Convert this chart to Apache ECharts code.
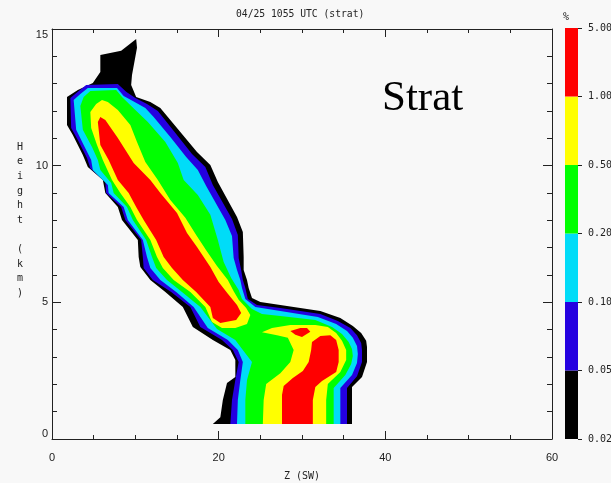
<!DOCTYPE html>
<html>
<head>
<meta charset="utf-8">
<script src="https://cdn.jsdelivr.net/npm/echarts@6/dist/echarts.min.js"></script>
<style>
  html, body { margin: 0; padding: 0; background: #f8f8f8; }
  #chart { width: 611px; height: 483px; }
</style>
</head>
<body>
<div id="chart"></div>
<script>
// Contour levels of the frequency (%) and their fill colours
const levelLabels = ['0.02', '0.05', '0.10', '0.20', '0.50', '1.00', '5.00'];
const levelColors = ['#000000', '#2400e0', '#00dcf8', '#00ff00', '#ffff00', '#ff0000'];

// Axis ranges: reflectivity Z (dBZ) and height (km)
const zRange = [0, 60];
const heightRange = [0, 15];

// Contour outlines as [Z, height] rings
const contour002 = [
  [19.3,0.55],[20.2,0.8],[20.5,1.43],[21.0,2.05],[22.0,2.27],[22.0,2.89],[21.4,3.26],[19.3,3.62],
  [16.9,4.1],[15.7,4.83],[13.6,5.38],[11.8,5.82],[10.6,6.29],[10.4,6.66],[10.3,7.28],[8.4,8.01],
  [7.9,8.49],[6.4,9.0],[6.1,9.48],[4.3,9.95],[3.7,10.39],[2.5,11.12],[1.8,11.49],[1.8,12.51],
  [3.1,12.77],[4.9,13.02],[5.8,13.43],[5.8,14.05],[8.3,14.2],[10.1,14.63],
  [10.2,14.31],[9.6,13.32],[9.5,12.95],[10.1,12.51],[11.8,12.33],[13.0,12.11],[15.4,11.23],
  [17.4,10.5],[19.0,10.02],[19.9,9.4],[22.2,8.12],[22.9,7.57],[23.0,6.66],[23.0,6.18],[23.4,5.82],
  [23.6,5.52],[24.0,5.16],[25.0,5.01],[27.4,4.9],[32.2,4.68],[34.6,4.43],[36.1,4.13],[37.1,3.88],
  [37.7,3.59],[37.8,3.37],[37.8,2.82],[37.2,2.27],[36.0,1.9],[36.0,0.55]
];
const contour005 = [
  [21.4,0.55],[21.6,1.43],[22.0,2.16],[22.4,2.82],[21.7,3.26],[20.4,3.62],[17.8,4.1],[16.6,4.83],
  [14.3,5.38],[12.1,5.82],[11.0,6.26],[10.9,6.66],[10.7,7.28],[8.8,8.01],[8.3,8.49],[6.5,9.0],
  [6.4,9.4],[4.6,9.91],[4.2,10.28],[3.1,10.94],[2.3,11.38],[2.2,12.48],[3.1,12.7],[4.1,12.95],
  [7.9,12.99],[8.9,12.7],[10.0,12.48],[11.4,12.26],[12.7,12.0],[14.9,11.16],[16.8,10.43],
  [18.4,9.95],[19.3,9.29],[21.6,8.05],[22.3,7.46],[22.4,6.62],[22.7,6.18],[22.9,5.82],[23.2,5.52],
  [23.5,5.12],[24.6,4.9],[27.4,4.79],[32.2,4.57],[34.3,4.32],[35.8,4.06],[36.6,3.8],[37.1,3.51],
  [37.2,3.26],[37.2,2.82],[36.6,2.3],[35.4,1.87],[35.4,0.55]
];
const contour010 = [
  [22.2,0.55],[22.3,1.43],[22.6,2.16],[22.9,2.82],[22.3,3.26],[21.1,3.62],[18.7,4.06],[17.0,4.83],
  [14.9,5.38],[13.0,5.82],[11.8,6.26],[11.4,6.66],[10.9,7.28],[9.1,8.01],[8.6,8.49],[6.8,9.0],
  [6.7,9.29],[4.9,9.84],[4.7,10.21],[3.8,10.76],[2.9,11.31],[2.6,12.4],[3.4,12.62],[4.3,12.84],
  [7.8,12.84],[8.6,12.55],[9.7,12.37],[11.2,12.11],[12.2,11.78],[14.2,11.05],[16.1,10.32],
  [17.5,9.84],[18.5,9.26],[20.8,8.01],[21.6,7.43],[21.8,6.62],[22.2,6.18],[22.6,5.82],[22.8,5.52],
  [23.2,5.12],[24.4,4.83],[27.4,4.68],[31.9,4.46],[34.1,4.21],[35.4,3.95],[36.1,3.7],[36.6,3.4],
  [36.7,3.11],[36.6,2.78],[36.0,2.34],[34.6,1.87],[34.6,0.55]
];
const contour020 = [
  [23.2,0.55],[23.2,1.43],[23.4,2.16],[24.0,2.82],[22.9,3.26],[22.0,3.62],[19.8,4.02],[17.8,4.83],
  [15.6,5.38],[13.8,5.82],[12.5,6.26],[12.0,6.66],[11.3,7.28],[9.7,8.01],[9.0,8.49],[7.4,9.0],
  [7.1,9.37],[5.8,9.84],[5.5,10.21],[4.8,10.68],[3.7,11.31],[3.4,12.18],[3.8,12.51],[4.6,12.73],
  [7.7,12.77],[8.4,12.51],[10.0,12.04],[11.5,11.6],[13.6,10.87],[15.1,10.1],[15.8,9.48],
  [17.5,8.93],[19.0,8.2],[19.9,7.28],[20.6,6.48],[21.5,5.89],[22.4,5.45],[22.8,5.12],[24.0,4.76],
  [25.2,4.57],[27.4,4.5],[31.6,4.35],[33.6,4.1],[34.8,3.84],[35.6,3.55],[36.0,3.29],[36.1,3.04],
  [35.9,2.74],[35.2,2.34],[33.8,1.87],[33.8,0.55]
];
const contour050Upper = [
  [20.4,4.06],[19.2,4.28],[18.4,4.83],[16.6,5.38],[14.6,5.82],[13.3,6.26],[12.6,6.66],[11.8,7.28],
  [10.2,8.01],[9.4,8.49],[8.2,9.0],[7.2,9.48],[6.1,10.21],[5.4,10.76],[4.7,11.38],[4.6,11.96],
  [5.3,12.26],[6.0,12.4],
  [6.7,12.33],[7.9,12.04],[9.4,11.49],[10.2,10.87],[11.2,10.13],[12.7,9.48],[14.2,8.74],[16.0,8.09],
  [17.3,7.46],[18.5,6.91],[19.8,6.33],[21.1,5.82],[21.8,5.41],[22.4,5.09],[23.3,4.79],[23.8,4.54],
  [23.4,4.21],[22.0,4.06]
];
const contour050Lower = [
  [25.3,0.55],[25.4,1.43],[25.7,2.01],[27.4,2.41],[28.6,2.82],[29.0,3.26],[28.3,3.7],[27.0,3.8],
  [25.2,3.91],[26.4,4.06],[28.6,4.17],[31.6,4.17],[33.1,4.1],[34.1,3.88],[34.8,3.59],[35.3,3.26],
  [35.3,2.89],[34.6,2.45],[33.1,2.01],[32.9,1.43],[32.9,0.55]
];
const contour100Upper = [
  [20.2,4.24],[19.3,4.43],[19.0,4.83],[17.3,5.38],[15.7,5.82],[14.4,6.26],[13.4,6.66],[12.5,7.28],
  [11.0,8.01],[10.1,8.49],[9.2,9.0],[7.9,9.48],[6.8,10.21],[5.8,10.76],[5.5,11.6],[5.8,11.78],
  [6.4,11.67],[7.9,11.01],[9.8,10.1],[11.8,9.48],[13.0,9.0],[15.0,8.27],[16.2,7.54],[17.4,7.02],
  [19.0,6.29],[20.0,5.74],[21.1,5.31],[22.2,4.9],[22.7,4.61],[22.1,4.35]
];
const contour100Lower = [
  [27.6,0.55],[27.6,1.61],[27.8,1.94],[28.9,2.23],[30.1,2.49],[30.8,2.82],[31.1,3.26],[31.2,3.55],
  [32.2,3.77],[33.4,3.8],[34.1,3.62],[34.4,3.26],[34.4,2.82],[34.1,2.45],[32.4,2.12],[31.6,1.9],
  [31.3,1.43],[31.3,0.55]
];
const contour100Core = [
  [28.6,3.95],[29.8,4.06],[30.6,4.06],[31.0,3.92],[30.0,3.73],[29.2,3.81]
];

// Painted from the lowest level up; each ring carries its level index
const shapes = [
  { ring: contour002, level: 0 },
  { ring: contour005, level: 1 },
  { ring: contour010, level: 2 },
  { ring: contour020, level: 3 },
  { ring: contour050Upper, level: 4 },
  { ring: contour050Lower, level: 4 },
  { ring: contour100Upper, level: 5 },
  { ring: contour100Lower, level: 5 },
  { ring: contour100Core, level: 5 }
];

const monoFont = 'DejaVu Sans Mono';
const tickFont = 'Liberation Sans';
const ink = '#222';

const chart = echarts.init(document.getElementById('chart'), null, { renderer: 'canvas' });

// Frame axes: each side of the plot box carries its own inward ticks
const frameAxis = (extra) => Object.assign({
  type: 'value',
  gridIndex: 0,
  axisLine: { show: true, onZero: false, lineStyle: { color: ink, width: 1 } },
  splitLine: { show: false }
}, extra);

const colorbarSeries = levelColors.map((c, i) => ({
  type: 'bar',
  name: levelLabels[i] + '-' + levelLabels[i + 1],
  xAxisIndex: 2,
  yAxisIndex: 2,
  stack: 'colorbar',
  barWidth: '100%',
  silent: true,
  itemStyle: { color: c },
  data: [1]
}));

chart.setOption({
  backgroundColor: '#f8f8f8',
  animation: false,
  title: [
    { text: '04/25 1055 UTC (strat)', left: 231, top: 4,
      textStyle: { fontFamily: monoFont, fontSize: 9.7, fontWeight: 'normal', color: ink } },
    { text: '%', left: 558, top: 7,
      textStyle: { fontFamily: monoFont, fontSize: 10, fontWeight: 'normal', color: ink } },
    { text: 'H\ne\ni\ng\nh\nt\n \n(\nk\nm\n)', left: 12, top: 135,
      textStyle: { fontFamily: monoFont, fontSize: 10, fontWeight: 'normal', color: ink, lineHeight: 14.6 } },
    { text: 'Strat', left: 377, top: 72,
      textStyle: { fontFamily: 'Liberation Serif', fontSize: 43, fontWeight: 'normal', color: '#000' } }
  ],
  grid: [
    { left: 52, right: 59, top: 29, bottom: 44, containLabel: false, outerBoundsMode: 'none' },
    { left: 565, top: 28, width: 13, height: 411, containLabel: false, outerBoundsMode: 'none' }
  ],
  xAxis: [
    frameAxis({
      min: zRange[0], max: zRange[1], interval: 20, position: 'bottom',
      axisTick: { show: true, inside: true, length: 8, lineStyle: { color: ink } },
      minorTick: { show: true, splitNumber: 4, length: 4, lineStyle: { color: ink } },
      axisLabel: { margin: 13, fontFamily: tickFont, fontSize: 11, color: ink },
      name: 'Z (SW)', nameLocation: 'middle', nameGap: 32,
      nameTextStyle: { fontFamily: monoFont, fontSize: 10, color: ink }
    }),
    frameAxis({
      min: zRange[0], max: zRange[1], interval: 20, position: 'top',
      axisTick: { show: true, inside: true, length: 8, lineStyle: { color: ink } },
      minorTick: { show: true, splitNumber: 4, length: 4, lineStyle: { color: ink } },
      axisLabel: { show: false }
    }),
    { type: 'category', gridIndex: 1, data: ['%'], show: false }
  ],
  yAxis: [
    frameAxis({
      min: heightRange[0], max: heightRange[1], interval: 5, position: 'left',
      axisTick: { show: true, inside: true, length: 9, lineStyle: { color: ink } },
      minorTick: { show: true, splitNumber: 5, length: 5, lineStyle: { color: ink } },
      axisLabel: { margin: 4, fontFamily: tickFont, fontSize: 11, color: ink,
        verticalAlignMinLabel: 'bottom', verticalAlignMaxLabel: 'top' }
    }),
    frameAxis({
      min: heightRange[0], max: heightRange[1], interval: 5, position: 'right',
      axisTick: { show: true, inside: true, length: 9, lineStyle: { color: ink } },
      minorTick: { show: true, splitNumber: 5, length: 5, lineStyle: { color: ink } },
      axisLabel: { show: false }
    }),
    {
      type: 'value', gridIndex: 1, min: 0, max: levelColors.length, interval: 1, position: 'right',
      axisLine: { show: false },
      axisTick: { show: true, inside: false, length: 4, lineStyle: { color: ink } },
      axisLabel: { margin: 10, fontFamily: monoFont, fontSize: 10, color: ink,
        formatter: (v) => levelLabels[v] },
      splitLine: { show: false }
    }
  ],
  series: [
    {
      type: 'custom',
      name: 'frequency',
      xAxisIndex: 0,
      yAxisIndex: 0,
      silent: true,
      data: shapes.map((s) => s.ring[0]),
      renderItem: (params, api) => {
        const s = shapes[params.dataIndex];
        return {
          type: 'polygon',
          shape: { points: s.ring.map((p) => api.coord(p)) },
          style: { fill: levelColors[s.level], stroke: null }
        };
      }
    }
  ].concat(colorbarSeries)
});
</script>
</body>
</html>
